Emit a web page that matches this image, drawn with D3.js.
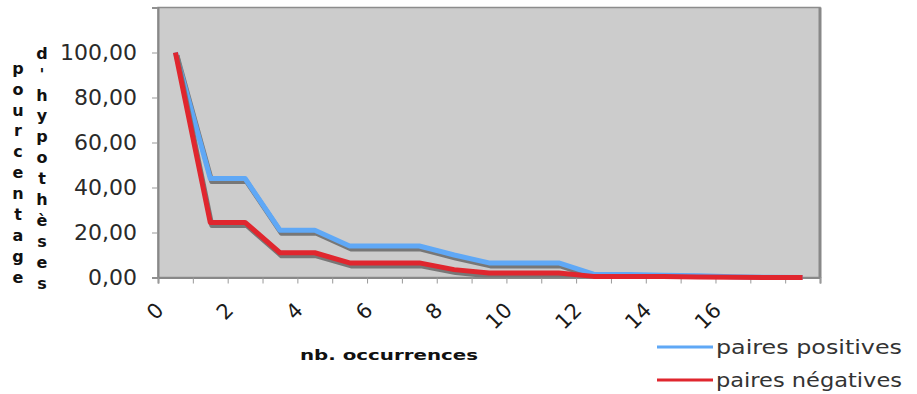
<!DOCTYPE html>
<html>
<head>
<meta charset="utf-8">
<script src="https://cdn.jsdelivr.net/npm/d3@7"></script>
<style>
  body { margin: 0; background: #fff; }
  svg { display: block; font-family: "DejaVu Sans", Verdana, sans-serif; }
</style>
</head>
<body>
<svg width="917" height="394"></svg>
<script>
// data
var categories = d3.range(19);               // nb. occurrences 0..18
var positives = [100, 44, 44, 21, 21, 14, 14, 14, 10, 6.5, 6.5, 6.5, 1.5, 1.3, 1.0, 0.8, 0.3, 0.1, 0];
var negatives = [100, 24.5, 24.5, 11, 11, 6.5, 6.5, 6.5, 3.5, 2, 2, 2, 0.5, 0.5, 0.4, 0.2, 0.1, 0, 0];
var yTicks = [0, 20, 40, 60, 80, 100, 120];
var yLabels = [0, 20, 40, 60, 80, 100];
var xLabels = [0, 2, 4, 6, 8, 10, 12, 14, 16];
var seriesNames = ["paires positives", "paires négatives"];
var seriesColors = ["#5fa8f6", "#e0262e"];

var svg = d3.select("svg");

// (window.top is read-only, so other names here)
var plotLeft = 158, plotRight = 820, plotTop = 7.5, plotBottom = 277.5;

// category axis: boundaries on a linear scale, points at centres
var x = d3.scaleLinear().domain([0, categories.length]).range([plotLeft, plotRight]);
var y = d3.scaleLinear().domain([0, 120]).range([plotBottom, plotTop]);

svg.append("defs").append("clipPath")
    .attr("id", "plotclip")
    .append("rect")
    .attr("x", plotLeft).attr("y", plotTop)
    .attr("width", plotRight - plotLeft).attr("height", plotBottom - plotTop);

// plot area
svg.append("rect")
    .attr("x", plotLeft).attr("y", plotTop)
    .attr("width", plotRight - plotLeft).attr("height", plotBottom - plotTop)
    .attr("fill", "#cccccc")
    .attr("stroke", "#8c8c8c")
    .attr("stroke-width", 1.5);
svg.append("line")
    .attr("x1", plotRight).attr("x2", plotRight)
    .attr("y1", plotTop).attr("y2", plotBottom)
    .attr("stroke", "#888").attr("stroke-width", 3);

// y axis
var yAxis = svg.append("g")
    .attr("transform", "translate(" + plotLeft + ",0)")
    .call(d3.axisLeft(y).tickValues(yTicks).tickSize(6).tickFormat(""));
yAxis.select(".domain").attr("stroke", "#888").attr("stroke-width", 2);
yAxis.selectAll(".tick line").attr("stroke", "#999");

svg.append("g").selectAll("text")
    .data(yLabels)
    .enter().append("text")
    .attr("x", 137)
    .attr("y", d => y(d))
    .attr("dy", "0.36em")
    .attr("text-anchor", "end")
    .attr("font-size", 22)
    .attr("fill", "#2a2a2a")
    .text(d => d3.format(".2f")(d).replace(".", ","));

// x axis
var xAxis = svg.append("g")
    .attr("transform", "translate(0," + plotBottom + ")")
    .call(d3.axisBottom(x).tickValues(d3.range(categories.length + 1)).tickSize(6).tickFormat(""));
xAxis.select(".domain").attr("stroke", "#888").attr("stroke-width", 2);
xAxis.selectAll(".tick line").attr("stroke", "#999");

svg.append("g").selectAll("text")
    .data(xLabels)
    .enter().append("text")
    .attr("transform", d => "translate(" + (x(d + 0.5) - 10.5) + "," + (plotBottom + 34) + ") rotate(-45)")
    .attr("text-anchor", "end")
    .attr("font-size", 21)
    .attr("fill", "#1a1a1a")
    .text(d => d);

// axis titles
svg.append("text")
    .attr("x", 300).attr("y", 360)
    .attr("font-size", 14)
    .attr("font-weight", "bold")
    .attr("fill", "#111")
    .attr("textLength", 178)
    .attr("lengthAdjust", "spacingAndGlyphs")
    .text("nb. occurrences");

function stacked(word, cx, cy) {
    svg.append("g").selectAll("text")
        .data(word.split(""))
        .enter().append("text")
        .attr("x", cx)
        .attr("y", (d, i) => cy + i * 20.9)
        .attr("dy", "0.36em")
        .attr("text-anchor", "middle")
        .attr("font-size", 16)
        .attr("font-weight", "bold")
        .attr("fill", "#111")
        .text(d => d);
}
stacked("pourcentage", 18, 68);
stacked("d'hypothèses", 42, 53);

// lines, each with its grey drop shadow
var line = d3.line()
    .x((d, i) => x(i + 0.5))
    .y(d => y(d));

[positives, negatives].forEach((values, k) => {
    svg.append("g")
        .attr("clip-path", "url(#plotclip)")
        .append("path")
        .attr("d", line(values))
        .attr("fill", "none")
        .attr("stroke", "#777")
        .attr("stroke-width", 5)
        .attr("stroke-linejoin", "round")
        .attr("transform", "translate(1.5,3)");
    svg.append("path")
        .attr("d", line(values))
        .attr("fill", "none")
        .attr("stroke", seriesColors[k])
        .attr("stroke-width", 5)
        .attr("stroke-linejoin", "round");
});

// legend
var legend = svg.append("g");
seriesNames.forEach((name, k) => {
    var ly = 347 + k * 33;
    legend.append("line")
        .attr("x1", 657).attr("x2", 713)
        .attr("y1", ly).attr("y2", ly)
        .attr("stroke", seriesColors[k])
        .attr("stroke-width", 3);
    legend.append("text")
        .attr("x", 716).attr("y", ly)
        .attr("dy", "0.36em")
        .attr("font-size", 20)
        .attr("fill", "#333")
        .attr("textLength", 186)
        .attr("lengthAdjust", "spacingAndGlyphs")
        .text(name);
});
</script>
</body>
</html>
